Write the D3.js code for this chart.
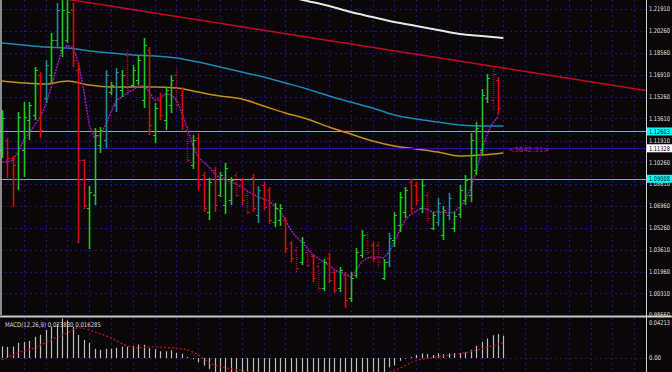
<!DOCTYPE html>
<html>
<head>
<meta charset="utf-8">
<script src="https://cdn.jsdelivr.net/npm/d3@7/dist/d3.min.js"></script>
<style>
  body { margin: 0; background: #0a0709; }
  svg { display: block; }
</style>
</head>
<body>
<div id="container"></div>
<script>
let w = 672;
let h = 372;
let axisX = 646;
let mainTop = 0, mainBottom = 316;
let macdTop = 318, macdBottom = 372;

// DATA: daily bars
const barOpen = [1.1119,1.1195,1.1059,1.0899,1.1119,1.1347,1.1385,1.1689,1.1515,1.1689,1.1955,1.1879,1.1955,1.2183,1.1727,1.1043,1.0679,1.0777,1.1157,1.1195,1.1560,1.1461,1.1575,1.1841,1.1613,1.1651,1.1500,1.1879,1.1233,1.1500,1.1347,1.1461,1.1689,1.1538,1.1271,1.1005,1.1211,1.0929,1.0648,1.0967,1.0777,1.0701,1.0739,1.0929,1.0891,1.0777,1.0907,1.0625,1.0853,1.0815,1.0572,1.0587,1.0587,1.0412,1.0359,1.0268,1.0344,1.0314,1.0238,1.0071,1.0299,1.0192,1.0071,1.0169,0.9995,1.0169,1.0321,1.0473,1.0397,1.0397,1.0147,1.0268,1.0435,1.0549,1.0648,1.0876,1.0853,1.0679,1.0777,1.0527,1.0572,1.0473,1.0625,1.0527,1.0633,1.0739,1.0777,1.0967,1.1119,1.1515,1.1500,1.1651,1.1461];
const barHigh = [1.1423,1.1211,1.1074,1.1408,1.1484,1.1484,1.1750,1.1712,1.1803,1.2009,1.2237,1.2259,1.2259,1.2237,1.1781,1.1051,1.0846,1.1287,1.1294,1.1727,1.1636,1.1743,1.1727,1.1879,1.1765,1.1841,1.1971,1.1902,1.1477,1.1553,1.1598,1.1689,1.1743,1.1598,1.1294,1.1233,1.1249,1.0952,1.0907,1.0990,1.0952,1.1021,1.0914,1.0952,1.0907,1.0793,1.0937,1.0846,1.0876,1.0838,1.0717,1.0709,1.0610,1.0427,1.0382,1.0458,1.0359,1.0329,1.0261,1.0291,1.0337,1.0207,1.0230,1.0192,1.0192,1.0375,1.0511,1.0496,1.0420,1.0420,1.0291,1.0489,1.0648,1.0800,1.0838,1.0899,1.0876,1.0891,1.0800,1.0648,1.0755,1.0694,1.0793,1.0648,1.0853,1.0929,1.1249,1.1332,1.1583,1.1697,1.1735,1.1674,1.1484];
const barLow = [1.1059,1.0907,1.0686,1.0815,1.0914,1.1195,1.1347,1.1211,1.1477,1.1629,1.1895,1.1826,1.1933,1.1750,1.0412,1.0671,1.0367,1.0701,1.1097,1.1135,1.1538,1.1408,1.1522,1.1538,1.1598,1.1613,1.1439,1.1233,1.1173,1.1347,1.1271,1.1401,1.1423,1.1271,1.1028,1.0975,1.0815,1.0648,1.0587,1.0648,1.0762,1.0633,1.0701,1.0755,1.0701,1.0625,1.0648,1.0565,1.0663,1.0557,1.0534,1.0542,1.0337,1.0268,1.0185,1.0245,1.0230,1.0116,1.0033,1.0047,1.0109,1.0033,1.0040,0.9919,0.9964,1.0147,1.0299,1.0321,1.0268,1.0223,1.0131,1.0230,1.0382,1.0496,1.0603,1.0648,1.0701,1.0641,1.0572,1.0511,1.0542,1.0435,1.0587,1.0496,1.0603,1.0701,1.0724,1.0929,1.1081,1.1477,1.1423,1.1385,1.1135];
const barClose = [1.1363,1.1059,1.1005,1.1370,1.1370,1.1461,1.1727,1.1271,1.1765,1.1955,1.2183,1.2183,1.2168,1.1803,1.1043,1.0701,1.0800,1.1233,1.1271,1.1689,1.1613,1.1712,1.1689,1.1575,1.1727,1.1803,1.1917,1.1309,1.1439,1.1385,1.1575,1.1651,1.1461,1.1309,1.1043,1.1195,1.0853,1.0679,1.0876,1.0701,1.0929,1.0982,1.0891,1.0777,1.0739,1.0648,1.0679,1.0815,1.0686,1.0587,1.0679,1.0679,1.0375,1.0299,1.0223,1.0420,1.0245,1.0147,1.0071,1.0268,1.0131,1.0055,1.0207,0.9979,1.0147,1.0344,1.0473,1.0344,1.0299,1.0268,1.0268,1.0451,1.0625,1.0762,1.0815,1.0679,1.0739,1.0853,1.0603,1.0625,1.0717,1.0663,1.0755,1.0618,1.0815,1.0891,1.1195,1.1287,1.1538,1.1667,1.1697,1.1439,1.11328];
// g = green, r = red, t = teal, d = dotted dark red
const barStyle = "grrggggrtgtggrrrgggtgtgdgggrgrggdrdgrrgrgggdrdrtrrggrrdgdrdgrrgrgggdrdgtgggrrgdgtgtgggggggdr".split("");

// moving averages, [bar, price]
const maWhite = [[52,1.2290],[56,1.2252],[60,1.2214],[64,1.2168],[68,1.2130],[72,1.2092],[76,1.2062],[80,1.2031],[84,1.2001],[88,1.1986],[92,1.1971]];
const maBlue = [[0,1.1933],[4,1.1917],[8,1.1902],[12,1.1895],[16,1.1872],[20,1.1857],[24,1.1841],[28,1.1834],[32,1.1819],[36,1.1788],[40,1.1750],[44,1.1712],[48,1.1674],[52,1.1629],[56,1.1583],[60,1.1530],[64,1.1484],[68,1.1439],[72,1.1386],[76,1.1355],[80,1.1332],[84,1.1310],[88,1.1302],[92,1.1302]];
const maOrange = [[0,1.1644],[4,1.1629],[8,1.1621],[12,1.1644],[16,1.1613],[20,1.1598],[24,1.1598],[28,1.1598],[32,1.1591],[36,1.1560],[40,1.1530],[44,1.1507],[48,1.1454],[52,1.1401],[56,1.1355],[60,1.1294],[64,1.1241],[68,1.1188],[72,1.1150],[76,1.1127],[80,1.1104],[84,1.1074],[88,1.1082],[92,1.1097]];
const maPurple = [1.1028,1.1028,1.1044,1.1105,1.1196,1.1249,1.1310,1.1370,1.1461,1.1591,1.1743,1.1879,1.1917,1.1895,1.1788,1.1575,1.1310,1.1211,1.1234,1.1310,1.1408,1.1500,1.1522,1.1553,1.1575,1.1606,1.1606,1.1560,1.1500,1.1515,1.1545,1.1538,1.1500,1.1401,1.1287,1.1158,1.1066,1.1028,1.0990,1.0937,1.0907,1.0892,1.0876,1.0861,1.0838,1.0808,1.0785,1.0762,1.0747,1.0732,1.0694,1.0656,1.0588,1.0512,1.0459,1.0421,1.0375,1.0322,1.0299,1.0268,1.0246,1.0208,1.0192,1.0177,1.0154,1.0208,1.0268,1.0299,1.0306,1.0306,1.0299,1.0344,1.0421,1.0512,1.0588,1.0633,1.0656,1.0679,1.0671,1.0648,1.0648,1.0648,1.0641,1.0648,1.0687,1.0740,1.0831,1.0952,1.1120,1.1234,1.1325,1.1370];

// trendline anchors [bar, price]
const trendLine = [[12,1.2265],[92,1.1743]];

// horizontal levels
const levels = [
  {price: 1.12603, label: "1.12603", color: "#18d8d8", box: "#00ffff"},
  {price: 1.09008, label: "1.09008", color: "#18d8d8", box: "#00ffff"},
  {price: 1.11328, label: "1.11328", color: "#3c0c9c", box: "#ffffff"}
];

const priceTicks = ["1.21910","1.20260","1.18560","1.16910","1.15260","1.13610","1.11910","1.10260","1.08610","1.06960","1.05260","1.03610","1.01960","1.00310","0.98660"];

// MACD(12,26,9)
const macdMain = [0.0123,0.0119,0.0123,0.0162,0.0172,0.0183,0.0226,0.0247,0.0299,0.0332,0.0363,0.04213,0.0400,0.0332,0.0247,0.0193,0.0162,0.0099,0.0088,0.0099,0.0099,0.0109,0.0120,0.0120,0.0130,0.0141,0.0141,0.0105,0.0095,0.0072,0.0072,0.0081,0.0056,0.0046,0.0012,-0.0012,-0.0046,-0.0081,-0.0117,-0.0160,-0.0190,-0.0210,-0.0230,-0.0250,-0.0260,-0.0270,-0.0280,-0.0290,-0.0300,-0.0310,-0.0320,-0.0330,-0.0350,-0.0370,-0.0390,-0.0400,-0.0410,-0.0420,-0.0430,-0.0430,-0.0430,-0.0420,-0.0410,-0.0400,-0.0380,-0.0350,-0.0320,-0.0300,-0.0260,-0.0220,-0.0170,-0.0099,-0.0081,-0.0029,-0.0005,0.0010,0.0032,0.0049,0.0042,0.0032,0.0049,0.0042,0.0049,0.0053,0.0053,0.0060,0.0088,0.0130,0.0172,0.0208,0.0243,0.0254,0.02383];
const macdSignal = [[0,-0.0018],[3,0.0056],[6,0.0109],[9,0.0194],[12,0.0268],[14,0.0321],[17,0.0278],[20,0.0215],[23,0.0130],[25,0.0109],[27,0.0120],[31,0.0109],[33,0.0098],[36,0.0035],[38,-0.0050],[41,-0.0103],[45,-0.0145],[50,-0.0200],[60,-0.0240],[68,-0.0200],[72,-0.0134],[76,-0.0029],[80,0.0014],[85,0.0056],[88,0.0098],[92,0.016285]];
const macdLabel = "MACD(12,26,9) 0.023830 0.016285";
const macdTicks = ["0.04213","0.00"];

const styleColor = {g: "#1fc81f", r: "#d80a0a", t: "#1a8c9c", d: "#9a0a3a"};

// SVG
let viz = d3.select("#container").append("svg")
    .attr("width", w)
    .attr("height", h)
    .style("background-color", "#0a0709")
    .style("font-family", "'DejaVu Sans', sans-serif");

let x = d3.scaleLinear().domain([0, 92]).range([2, 2 + 5.45 * 92]);
let y = d3.scaleLinear().domain([+priceTicks[14], +priceTicks[0]]).range([315, 9]);
let ym = d3.scaleLinear().domain([0, +macdTicks[0]]).range([358, 318.5]);

let defs = viz.append("defs");
defs.append("clipPath").attr("id", "clipMain").append("rect")
    .attr("x", 0).attr("y", mainTop).attr("width", axisX).attr("height", mainBottom - mainTop - 1);
defs.append("clipPath").attr("id", "clipMacd").append("rect")
    .attr("x", 0).attr("y", macdTop).attr("width", axisX).attr("height", macdBottom - macdTop);

let gridColor = "#2a0c8e";

// grid
let main = viz.append("g").attr("clip-path", "url(#clipMain)");
main.selectAll(".hgrid").data(priceTicks).enter().append("line")
    .attr("class", "hgrid")
    .attr("x1", 0).attr("x2", axisX)
    .attr("y1", d => Math.round(y(+d)) + 0.5).attr("y2", d => Math.round(y(+d)) + 0.5)
    .attr("stroke", gridColor).attr("stroke-dasharray", "2,3");
let vgrid = d3.range(4, 120, 4);
main.selectAll(".vgrid").data(vgrid).enter().append("line")
    .attr("class", "vgrid")
    .attr("x1", d => Math.round(x(d)) + 0.5).attr("x2", d => Math.round(x(d)) + 0.5)
    .attr("y1", 0).attr("y2", mainBottom)
    .attr("stroke", gridColor).attr("stroke-dasharray", "2,3");

// moving averages
let line = d3.line().x(d => x(d[0])).y(d => y(d[1])).curve(d3.curveMonotoneX);
main.append("path").datum(maOrange).attr("d", line)
    .attr("fill", "none").attr("stroke", "#c88c14").attr("stroke-width", 1.5);
main.append("path").datum(maBlue).attr("d", line)
    .attr("fill", "none").attr("stroke", "#1e88b4").attr("stroke-width", 1.5);
main.append("path").datum(maWhite).attr("d", line)
    .attr("fill", "none").attr("stroke", "#e6e6e6").attr("stroke-width", 2);

// trendline, extended to the right
let tSlope = (trendLine[1][1] - trendLine[0][1]) / (trendLine[1][0] - trendLine[0][0]);
let tEnd = x.invert(axisX);
main.append("line")
    .attr("x1", x(trendLine[0][0])).attr("y1", y(trendLine[0][1]))
    .attr("x2", x(tEnd)).attr("y2", y(trendLine[0][1] + tSlope * (tEnd - trendLine[0][0])))
    .attr("stroke", "#c40a28").attr("stroke-width", 1.5);

// horizontal levels
main.selectAll(".level").data(levels).enter().append("line")
    .attr("class", "level")
    .attr("x1", 0).attr("x2", axisX)
    .attr("y1", d => Math.round(y(d.price)) + 0.5).attr("y2", d => Math.round(y(d.price)) + 0.5)
    .attr("stroke", d => d.color).attr("stroke-width", 1);

// purple short MA
main.append("path").datum(maPurple).attr("d", d3.line().x((d, i) => x(i)).y(d => y(d)))
    .attr("fill", "none").attr("stroke", "#a414c8").attr("stroke-width", 1.5)
    .attr("stroke-dasharray", "2,1");

// OHLC bars
let bars = main.selectAll(".bar").data(barClose).enter().append("g").attr("class", "bar");
bars.append("line")
    .attr("x1", (d, i) => Math.round(x(i)) + 0.5).attr("x2", (d, i) => Math.round(x(i)) + 0.5)
    .attr("y1", (d, i) => y(barHigh[i])).attr("y2", (d, i) => y(barLow[i]))
    .attr("stroke", (d, i) => styleColor[barStyle[i]])
    .attr("stroke-width", 1.6)
    .attr("stroke-dasharray", (d, i) => barStyle[i] == "d" ? "1,1" : null);
bars.append("line")
    .attr("x1", (d, i) => Math.round(x(i)) - 2).attr("x2", (d, i) => Math.round(x(i)) + 0.5)
    .attr("y1", (d, i) => Math.round(y(barOpen[i])) + 0.5).attr("y2", (d, i) => Math.round(y(barOpen[i])) + 0.5)
    .attr("stroke", (d, i) => styleColor[barStyle[i]]);
bars.append("line")
    .attr("x1", (d, i) => Math.round(x(i)) + 0.5).attr("x2", (d, i) => Math.round(x(i)) + 3)
    .attr("y1", (d, i) => Math.round(y(d)) + 0.5).attr("y2", (d, i) => Math.round(y(d)) + 0.5)
    .attr("stroke", (d, i) => styleColor[barStyle[i]]);

// left border
viz.append("line").attr("x1", 1).attr("x2", 1).attr("y1", 0).attr("y2", mainBottom - 1)
    .attr("stroke", "#b8b8b8").attr("stroke-width", 1.5);

// ruler text
viz.append("text").attr("x", x(92) + 5).attr("y", y(1.11328) + 4)
    .attr("fill", "#b018b8").attr("font-size", 7).text("<3642.31>");

// MACD window
let macd = viz.append("g").attr("clip-path", "url(#clipMacd)");
macd.selectAll(".vgrid").data(vgrid).enter().append("line")
    .attr("x1", d => Math.round(x(d)) + 0.5).attr("x2", d => Math.round(x(d)) + 0.5)
    .attr("y1", macdTop).attr("y2", macdBottom)
    .attr("stroke", gridColor).attr("stroke-dasharray", "2,3");
macd.append("line").attr("x1", 0).attr("x2", axisX)
    .attr("y1", Math.round(ym(0)) + 0.5).attr("y2", Math.round(ym(0)) + 0.5)
    .attr("stroke", gridColor).attr("stroke-dasharray", "2,3");
macd.selectAll(".hist").data(macdMain).enter().append("line")
    .attr("x1", (d, i) => Math.round(x(i)) + 0.5).attr("x2", (d, i) => Math.round(x(i)) + 0.5)
    .attr("y1", ym(0)).attr("y2", d => ym(d))
    .attr("stroke", "#bdbdbd").attr("stroke-width", 1.2);
macd.append("path").datum(macdSignal)
    .attr("d", d3.line().x(d => x(d[0])).y(d => ym(d[1])).curve(d3.curveMonotoneX))
    .attr("fill", "none").attr("stroke", "#c8102a").attr("stroke-width", 1.2)
    .attr("stroke-dasharray", "2,2");
viz.append("text").attr("x", 5).attr("y", 326.5)
    .attr("fill", "#d8d8d8").attr("font-size", 6.5)
    .attr("textLength", 96).attr("lengthAdjust", "spacingAndGlyphs")
    .text(macdLabel);

// separator between windows
viz.append("line").attr("x1", 0).attr("x2", w).attr("y1", 316.5).attr("y2", 316.5)
    .attr("stroke", "#c8c8c8").attr("stroke-width", 2);

// price axis
viz.append("line").attr("x1", axisX + 0.5).attr("x2", axisX + 0.5).attr("y1", 0).attr("y2", h)
    .attr("stroke", "#d0d0d0").attr("stroke-width", 1);
viz.selectAll(".ptick").data(priceTicks).enter().append("text")
    .attr("x", axisX + 3).attr("y", d => y(+d) + 2.3)
    .attr("fill", "#e0e0e0").attr("font-size", 6.5)
    .attr("textLength", 21).attr("lengthAdjust", "spacingAndGlyphs")
    .text(d => d);
viz.selectAll(".lvbox").data(levels).enter().append("rect")
    .attr("x", axisX + 1).attr("y", d => y(d.price) - 4).attr("width", w - axisX).attr("height", 8)
    .attr("fill", d => d.box);
viz.selectAll(".lvtext").data(levels).enter().append("text")
    .attr("x", axisX + 3).attr("y", d => y(d.price) + 2.3)
    .attr("fill", "#000").attr("font-size", 6.5)
    .attr("textLength", 21).attr("lengthAdjust", "spacingAndGlyphs")
    .text(d => d.label);
viz.selectAll(".mtick").data(macdTicks).enter().append("text")
    .attr("x", axisX + 3).attr("y", (d, i) => i == 0 ? 324.5 : ym(+d) + 2.3)
    .attr("fill", "#e0e0e0").attr("font-size", 6.5)
    .attr("textLength", d => d.length > 4 ? 21 : 12).attr("lengthAdjust", "spacingAndGlyphs")
    .text(d => d);
</script>
</body>
</html>
